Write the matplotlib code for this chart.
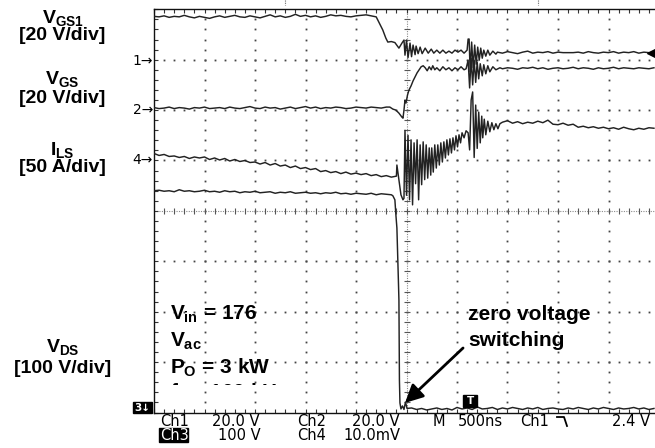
import numpy as np
import matplotlib
matplotlib.use('Agg')
import matplotlib.pyplot as plt
from matplotlib.patches import Rectangle
from matplotlib.transforms import Bbox, TransformedBbox
from matplotlib.lines import Line2D

plt.rcParams['font.family'] = ['Liberation Sans', 'DejaVu Sans']
plt.rcParams['mathtext.fontset'] = 'custom'
plt.rcParams['mathtext.rm'] = 'Liberation Sans:bold'
plt.rcParams['mathtext.it'] = 'Liberation Sans:bold'
plt.rcParams['mathtext.bf'] = 'Liberation Sans:bold'
plt.rcParams['mathtext.sf'] = 'Liberation Sans:bold'

# ---------------- data (screen divisions; 500 ns/div) ----------------
STEP = 0.1  # sample spacing of uniformly sampled record parts (div)

ch1_a_start = 0.0
ch1_a = [7.86, 7.85, 7.87, 7.84, 7.86, 7.85, 7.88, 7.85, 7.83, 7.86,
         7.84, 7.82, 7.85, 7.87, 7.84, 7.86, 7.88, 7.85, 7.84, 7.87,
         7.85, 7.83, 7.86, 7.89, 7.85, 7.87, 7.84, 7.86, 7.90, 7.86,
         7.88, 7.85, 7.87, 7.84, 7.86, 7.89, 7.87, 7.88, 7.86, 7.85,
         7.87, 7.88, 7.89, 7.87, 7.85]
ch1_b_t = [4.53, 4.59, 4.63, 4.70, 4.77, 4.85, 4.91, 4.95, 4.97, 5.00, 5.03, 5.07, 5.10,
           5.13, 5.17, 5.19, 5.23, 5.27, 5.31, 5.37, 5.43, 5.49, 5.54, 5.60, 5.66, 5.72,
           5.78, 5.84, 5.90, 5.96, 6.02, 6.08, 6.14, 6.20, 6.22, 6.24, 6.26, 6.29, 6.32,
           6.35, 6.38, 6.41, 6.44, 6.47, 6.50, 6.53, 6.57, 6.61, 6.65, 6.71, 6.77]
ch1_b = [7.59, 7.43, 7.35, 7.36, 7.34, 7.23, 7.33, 7.39, 7.09, 7.39, 7.04, 7.33, 7.06,
         7.29, 7.10, 7.27, 7.12, 7.25, 7.12, 7.23, 7.13, 7.21, 7.13, 7.19, 7.13, 7.19,
         7.13, 7.17, 7.13, 7.19, 7.15, 7.19, 7.13, 7.19, 7.41, 7.41, 6.76, 7.35, 6.84,
         7.29, 6.91, 7.25, 6.99, 7.23, 7.03, 7.19, 7.07, 7.19, 7.09, 7.17, 7.11]
ch1_c_start = 6.8
ch1_c = [7.15, 7.13, 7.16, 7.14, 7.12, 7.15, 7.17, 7.13, 7.15, 7.14, 7.16, 7.13, 7.15,
         7.14, 7.14, 7.14, 7.15, 7.13, 7.16, 7.14, 7.13, 7.15, 7.14, 7.16, 7.13, 7.15,
         7.14, 7.16, 7.13, 7.15, 7.14, 7.14]

ch2_a_start = 0.0
ch2_a = [6.05, 6.03, 6.04, 6.06, 6.03, 6.05, 6.04, 6.02, 6.05, 6.04,
         6.06, 6.03, 6.04, 6.05, 6.03, 6.06, 6.04, 6.03, 6.05, 6.07,
         6.04, 6.03, 6.06, 6.04, 6.05, 6.02, 6.04, 6.06, 6.03, 6.05,
         6.07, 6.04, 6.06, 6.03, 6.05, 6.04, 6.06, 6.05, 6.03, 6.04,
         6.06, 6.05, 6.04, 6.06, 6.05, 6.04, 6.06]
ch2_b_t = [4.67, 4.73, 4.79, 4.85, 4.91, 4.93, 4.95, 4.97, 4.99, 5.02, 5.05, 5.09, 5.13,
           5.17, 5.21, 5.25, 5.29, 5.33, 5.37, 5.41, 5.45, 5.49, 5.52, 5.56, 5.60, 5.66,
           5.72, 5.78, 5.84, 5.90, 5.96, 6.02, 6.08, 6.14, 6.18, 6.22, 6.25, 6.28, 6.31,
           6.34, 6.37, 6.40, 6.43, 6.46, 6.50, 6.53, 6.57, 6.61, 6.65, 6.71, 6.77, 6.85]
ch2_b = [6.06, 6.02, 6.00, 5.94, 5.86, 5.84, 6.00, 6.20, 6.14, 6.30, 6.40, 6.48, 6.58,
         6.66, 6.74, 6.80, 6.86, 6.88, 6.84, 6.78, 6.86, 6.80, 6.88, 6.80, 6.84, 6.78,
         6.86, 6.80, 6.84, 6.78, 6.84, 6.80, 6.86, 6.80, 6.82, 6.99, 6.44, 7.03, 6.50,
         6.99, 6.55, 6.95, 6.62, 6.92, 6.68, 6.90, 6.72, 6.88, 6.76, 6.86, 6.80, 6.84]
ch2_c_start = 6.9
ch2_c = [6.82, 6.84, 6.83, 6.81, 6.84, 6.83, 6.85, 6.82, 6.84, 6.81, 6.83, 6.84, 6.82,
         6.83, 6.85, 6.82, 6.84, 6.83, 6.81, 6.84, 6.82, 6.83, 6.85, 6.82, 6.84, 6.83,
         6.82, 6.84, 6.83, 6.82, 6.84]

ch4_a_start = 0.0
ch4_a = [5.14, 5.10, 5.12, 5.08, 5.09, 5.06, 5.08, 5.04, 5.07, 5.05,
         5.07, 5.02, 5.05, 5.01, 5.04, 4.99, 5.02, 4.98, 5.00, 4.96,
         4.97, 4.93, 4.96, 4.91, 4.94, 4.89, 4.91, 4.86, 4.89, 4.84,
         4.86, 4.82, 4.84, 4.78, 4.80, 4.76, 4.78, 4.74, 4.77, 4.73,
         4.75, 4.72, 4.74, 4.70, 4.72, 4.68, 4.70, 4.67, 4.69]
ch4_b_t = [4.81, 4.85, 4.89, 4.93, 4.95, 4.97, 5.00, 5.03, 5.06, 5.09, 5.12, 5.15, 5.18,
           5.21, 5.24, 5.27, 5.30, 5.33, 5.36, 5.39, 5.42, 5.45, 5.48, 5.50, 5.53, 5.56,
           5.59, 5.62, 5.65, 5.68, 5.71, 5.74, 5.77, 5.80, 5.83, 5.86, 5.89, 5.92, 5.95,
           5.98, 6.01, 6.04, 6.07, 6.10, 6.14, 6.18, 6.22, 6.25, 6.28, 6.31, 6.34, 6.37,
           6.40, 6.43, 6.46, 6.49, 6.51, 6.54, 6.57, 6.61, 6.65, 6.69, 6.73, 6.77, 6.81, 6.85]
ch4_b = [4.91, 4.61, 4.32, 4.22, 4.25, 5.60, 4.31, 5.50, 4.22, 5.41, 4.12, 5.35, 4.54,
         5.41, 4.22, 5.31, 4.52, 5.37, 4.62, 5.31, 4.65, 5.25, 4.71, 5.25, 4.77, 5.31,
         4.85, 5.31, 4.91, 5.35, 4.97, 5.37, 5.05, 5.41, 5.11, 5.43, 5.15, 5.45, 5.21,
         5.49, 5.27, 5.51, 5.35, 5.55, 5.45, 5.59, 5.55, 5.21, 6.20, 6.36, 5.06, 6.10,
         5.24, 5.96, 5.35, 5.88, 5.45, 5.82, 5.51, 5.78, 5.57, 5.75, 5.61, 5.73, 5.63, 5.73]
ch4_c_start = 6.9
ch4_c = [5.76, 5.79, 5.74, 5.77, 5.73, 5.76, 5.74, 5.78, 5.75, 5.80, 5.72, 5.71, 5.74,
         5.70, 5.72, 5.66, 5.68, 5.65, 5.67, 5.64, 5.66, 5.63, 5.65, 5.62, 5.66, 5.63,
         5.61, 5.64, 5.62, 5.65, 5.64]

ch3_a_start = 0.0
ch3_a = [4.40, 4.41, 4.39, 4.40, 4.38, 4.42, 4.39, 4.40, 4.38, 4.39,
         4.41, 4.38, 4.39, 4.37, 4.40, 4.38, 4.39, 4.36, 4.38, 4.37,
         4.39, 4.36, 4.37, 4.38, 4.35, 4.37, 4.36, 4.38, 4.35, 4.36,
         4.37, 4.35, 4.36, 4.34, 4.36, 4.35, 4.37, 4.34, 4.35, 4.33,
         4.35, 4.34, 4.33, 4.35, 4.32, 4.34, 4.33, 4.32]
ch3_b_t = [4.73, 4.77, 4.79, 4.81, 4.84, 4.85, 4.86, 4.87, 4.89, 4.92, 4.95, 4.98, 5.01]
ch3_b = [4.30, 4.22, 3.92, 3.66, 2.60, 2.23, 0.64, 0.19, 0.07, 0.13, 0.06, 0.21, 0.08]
ch3_c_start = 5.1
ch3_c = [0.09, 0.06, 0.08, 0.05, 0.07, 0.09, 0.06, 0.08, 0.05, 0.10,
         0.07, 0.09, 0.06, 0.11, 0.07, 0.08, 0.10, 0.06, 0.09, 0.07,
         0.10, 0.08, 0.06, 0.09, 0.07, 0.10, 0.06, 0.08, 0.09, 0.07,
         0.06, 0.09, 0.07, 0.10, 0.08, 0.06, 0.09, 0.07, 0.10, 0.08,
         0.06, 0.09, 0.07, 0.08, 0.10, 0.07, 0.09, 0.06, 0.08]

ch1_trig_level = 7.13      # trigger level marker (div)
trig_pos = 6.26            # trigger position marker (div)

left_labels = [(r'$V_{GS1}$', 23.5), ('[20 V/div]', 40), (r'$V_{GS}$', 84),
               ('[20 V/div]', 103), (r'$I_{LS}$', 155), ('[50 A/div]', 172),
               (r'$V_{DS}$', 352), ('[100 V/div]', 373)]
cond_lines = [r'$V_{in}$ = 176', r'$V_{ac}$', r'$P_{O}$ = 3 kW', r'$f_{s}$ = 100 kHz']
ann_lines = ['zero voltage', 'switching']
markers = [('1\u2192', 61), ('2\u2192', 110), ('4\u2192', 160)]
status_row1 = [('Ch1', 160), ('20.0 V', 212), ('Ch2', 297), ('20.0 V', 352), ('M', 433),
               ('500ns', 458), ('Ch1', 520), ('2.4 V', 612)]
status_row2 = [('100 V', 218), ('Ch4', 297), ('10.0mV', 343)]


def record(start, vals, t_mid, v_mid, start2, vals2):
    t = [start + STEP * i for i in range(len(vals))]
    t += list(t_mid)
    t += [start2 + STEP * i for i in range(len(vals2))]
    return np.array(t), np.array(list(vals) + list(v_mid) + list(vals2))


# ---------------- figure ----------------
W, H = 655, 448
fig = plt.figure(figsize=(W / 100, H / 100), dpi=100)
fig.patch.set_facecolor('white')


def fx(px):
    return px / W


def fy(py):
    return 1 - py / H


DX, DY = 50.5, 50.4
ax = fig.add_axes([fx(154), fy(412.5), 10 * DX / W, 8 * DY / H])
ax.set_xlim(0, 10)
ax.set_ylim(0, 8)
ax.set_facecolor('white')
for s in ['left', 'top', 'bottom']:
    ax.spines[s].set_color('#111111')
    ax.spines[s].set_linewidth(1.0)
ax.spines['right'].set_visible(False)
ax.set_xticks(np.arange(0, 10.01, 0.2))
ax.set_yticks(np.arange(0, 8.01, 0.2))
ax.tick_params(direction='in', length=3, width=0.8, color='#333333',
               top=True, bottom=True, left=True, right=False,
               labelbottom=False, labelleft=False)

# graticule
dots_v = np.arange(0.2, 8.0, 0.2)
dots_h = np.arange(0.2, 10.0, 0.2)
for gx in [1, 2, 3, 4, 6, 7, 8, 9]:
    ax.plot(np.full_like(dots_v, gx), dots_v, ls='none', marker='s', ms=1.3,
            mew=0, color='#444444', zorder=1)
for gy in [1, 2, 3, 5, 6, 7]:
    ax.plot(dots_h, np.full_like(dots_h, gy), ls='none', marker='s', ms=1.3,
            mew=0, color='#444444', zorder=1)
ax.plot([0, 10], [4, 4], color='#8a8a8a', lw=0.8, ls=(0, (1, 1.2)), zorder=1)
ax.plot([5, 5], [0, 8], color='#8a8a8a', lw=0.8, ls=(0, (1, 1.2)), zorder=1)
ax.plot(dots_h, np.full_like(dots_h, 4), ls='none', marker='|', ms=4.5, mew=0.8,
        color='#555555', zorder=1)
ax.plot(np.full_like(dots_v, 5), dots_v, ls='none', marker='_', ms=4.5, mew=0.8,
        color='#555555', zorder=1)

# traces
tc = '#222222'
for rec in [record(ch1_a_start, ch1_a, ch1_b_t, ch1_b, ch1_c_start, ch1_c),
            record(ch2_a_start, ch2_a, ch2_b_t, ch2_b, ch2_c_start, ch2_c),
            record(ch4_a_start, ch4_a, ch4_b_t, ch4_b, ch4_c_start, ch4_c),
            record(ch3_a_start, ch3_a, ch3_b_t, ch3_b, ch3_c_start, ch3_c)]:
    ax.plot(rec[0], rec[1], color=tc, lw=1.05, zorder=3)

ax.plot([9.86], [ch1_trig_level], marker='<', ms=7, color='black', zorder=4)

# annotation arrow
ax.annotate('', xy=(4.97, 0.19), xytext=(6.12, 1.28),
            arrowprops=dict(arrowstyle='-|>,head_length=0.9,head_width=0.45',
                            color='black', lw=2.0, mutation_scale=12,
                            shrinkA=0, shrinkB=0), zorder=5)

# left labels
for txt, yb in left_labels:
    fig.text(fx(62.5), fy(yb), txt, ha='center', va='baseline', fontsize=14,
             fontweight='bold', color='black')

# conditions text
cond_y = [320, 347, 374, 399]
for i, (txt, yb) in enumerate(zip(cond_lines, cond_y)):
    t = fig.text(fx(170), fy(yb), txt, ha='left', va='baseline', fontsize=15,
                 fontweight='bold', color='black', zorder=6)
    if i == 3:
        t.set_clip_box(TransformedBbox(Bbox([[0, fy(385)], [1, 1]]), fig.transFigure))
        t.set_clip_on(True)

for txt, yb in zip(ann_lines, [320, 346]):
    fig.text(fx(468), fy(yb), txt, ha='left', va='baseline', fontsize=15,
             fontweight='bold', color='black', zorder=6)

# channel markers
for txt, yc in markers:
    fig.text(fx(153), fy(yc), txt, ha='right', va='center', fontsize=10,
             family='DejaVu Sans', color='black')

# ground marker box "3↓"
fig.patches.append(Rectangle((fx(133), fy(413)), fx(152) - fx(133), fy(402) - fy(413),
                             transform=fig.transFigure, color='black', zorder=2))
fig.text(fx(142.5), fy(407.5), '3\u2193', ha='center', va='center', fontsize=7.5,
         fontweight='bold', family='DejaVu Sans', color='white', zorder=7)

# trigger position marker
tx = 154 + trig_pos * DX
fig.patches.append(Rectangle((fx(tx - 7), fy(407)), 14 / W, 12 / H,
                             transform=fig.transFigure, color='black', zorder=2))
fig.text(fx(tx), fy(401), 'T', ha='center', va='center', fontsize=7.5,
         fontweight='bold', family='DejaVu Sans', color='white', zorder=7)

# status bar
for txt, x0 in status_row1:
    fig.text(fx(x0), fy(426), txt, ha='left', va='baseline', fontsize=10.5,
             family='DejaVu Sans', color='black')
for txt, x0 in status_row2:
    fig.text(fx(x0), fy(440), txt, ha='left', va='baseline', fontsize=10.5,
             family='DejaVu Sans', color='black')
fig.patches.append(Rectangle((fx(159), fy(442)), 29 / W, 14 / H,
                             transform=fig.transFigure, color='black', zorder=2))
fig.text(fx(160.5), fy(440), 'Ch3', ha='left', va='baseline', fontsize=10.5,
         family='DejaVu Sans', color='white', zorder=7)
# falling-edge trigger slope symbol
fig.lines.append(Line2D([fx(557), fx(564), fx(567)], [fy(417), fy(417), fy(426)],
                        transform=fig.transFigure, color='black', lw=1.3))

# small marks above graticule
for mx in [285, 538]:
    fig.lines.append(Line2D([fx(mx), fx(mx)], [fy(0.5), fy(5)], transform=fig.transFigure,
                            color='#666666', lw=0.8, ls=(0, (1, 1))))

fig.savefig('out.png', dpi=100, facecolor='white')
